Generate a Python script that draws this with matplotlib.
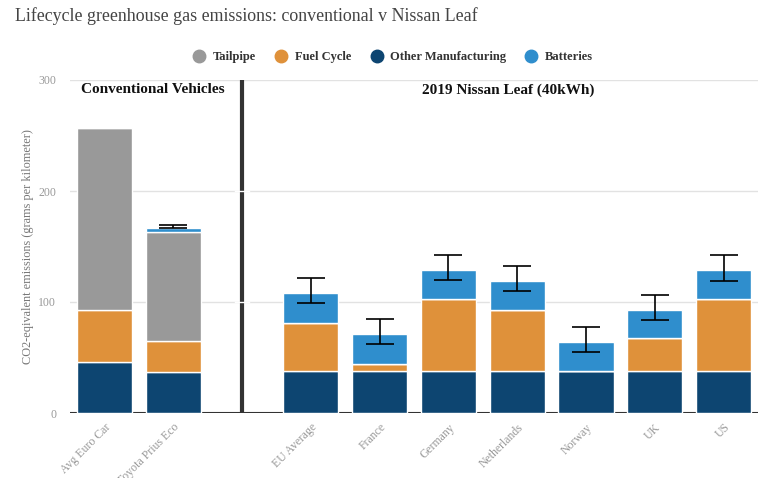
import numpy as np
import matplotlib.pyplot as plt
from matplotlib.lines import Line2D

# data (grams CO2-eq per km)
categories = ["Avg Euro Car", "Toyota Prius Eco", "",
              "EU Average", "France", "Germany", "Netherlands", "Norway", "UK", "US"]
manufacturing = [46, 37, 0, 37.5, 37.5, 37.5, 37.5, 37.5, 37.5, 37.5]
fuel_cycle = [47, 28, 0, 44, 7, 65, 55, 0, 30, 65]
tailpipe = [164, 98, 0, 0, 0, 0, 0, 0, 0, 0]
batteries = [0, 3.5, 0, 27, 26.5, 26.5, 26.5, 26.5, 25.5, 26.5]
err_low = [None, 166.4, None, 98.8, 61.9, 119.5, 109.6, 54.7, 83.5, 118.6]
err_high = [None, 169, None, 121.3, 84.4, 142, 132.1, 77.2, 106, 142]

colors = {
    "Tailpipe": "#999999",
    "Fuel Cycle": "#df913a",
    "Other Manufacturing": "#0d4571",
    "Batteries": "#2f8ecd",
}

plt.rcParams['font.family'] = ['Liberation Serif', 'DejaVu Serif']

fig = plt.figure(figsize=(7.61, 4.78), dpi=100)
ax = fig.add_axes([70 / 761, 65 / 478, 688 / 761, 333 / 478])

x = np.arange(len(categories))
manu = np.array(manufacturing)
fuel = np.array(fuel_cycle)
tail = np.array(tailpipe)
batt = np.array(batteries)
mask = np.array([c != "" for c in categories])

w = 0.8
kw = dict(width=w, edgecolor='white', linewidth=1, zorder=3)
ax.bar(x[mask], manu[mask], color=colors["Other Manufacturing"], **kw)
ax.bar(x[mask], fuel[mask], bottom=manu[mask], color=colors["Fuel Cycle"], **kw)
ax.bar(x[mask], tail[mask], bottom=(manu + fuel)[mask], color=colors["Tailpipe"], **kw)
ax.bar(x[mask], batt[mask], bottom=(manu + fuel + tail)[mask], color=colors["Batteries"], **kw)

# error bars
for i, (lo, hi) in enumerate(zip(err_low, err_high)):
    if lo is None:
        continue
    mid = (lo + hi) / 2
    ax.errorbar(i, mid, yerr=(hi - lo) / 2, color='black', lw=1.2,
                capsize=10, capthick=1.2, zorder=5)

ax.set_xlim(-0.5, len(categories) - 0.5)
ax.set_ylim(0, 300)
ax.set_yticks([0, 100, 200, 300])
ax.set_xticks(x)
ax.set_xticklabels(categories, rotation=45, ha='right', rotation_mode='anchor',
                   color='#888888', fontsize=8)
ax.tick_params(axis='both', length=0, labelsize=8.5, colors='#999999')
ax.tick_params(axis='x', pad=6)
ax.tick_params(axis='y', pad=10)
for s in ax.spines.values():
    s.set_visible(False)

ax.grid(axis='y', color='#e2e2e2', lw=1, zorder=0)
ax.set_axisbelow(True)
ax.axhline(0, color='#333333', lw=1.5, zorder=2)

# group divider
ax.axvline(2, color='#333333', lw=3, zorder=1)
for yv in [100, 200]:
    ax.plot([1.9, 2.1], [yv, yv], color='white', lw=1, zorder=2)

ax.text(0.71, 291, "Conventional Vehicles", ha='center', va='center',
        fontsize=11, fontweight='bold', color='#111111')
ax.text(5.87, 291, "2019 Nissan Leaf (40kWh)", ha='center', va='center',
        fontsize=11, fontweight='bold', color='#111111')

ax.set_ylabel("CO2-eqivalent emissions (grams per kilometer)", color='#777777',
              fontsize=8.8)
ax.yaxis.set_label_coords(-36 / 688, 0.5)

fig.text(15 / 761, 1 - 16 / 478, "Lifecycle greenhouse gas emissions: conventional v Nissan Leaf",
         ha='left', va='center', fontsize=12.9, color='#444444')

handles = [Line2D([], [], marker='o', ls='', markersize=9, color=colors[k]) for k in
           ["Tailpipe", "Fuel Cycle", "Other Manufacturing", "Batteries"]]
fig.legend(handles, list(colors.keys()), loc='center', bbox_to_anchor=(390 / 761, 1 - 57 / 478),
           ncol=4, frameon=False, handletextpad=0.1, columnspacing=1.0,
           prop={'weight': 'bold', 'size': 9, 'family': 'Liberation Serif'},
           labelcolor='#333333')

fig.savefig("out.png", dpi=100)
